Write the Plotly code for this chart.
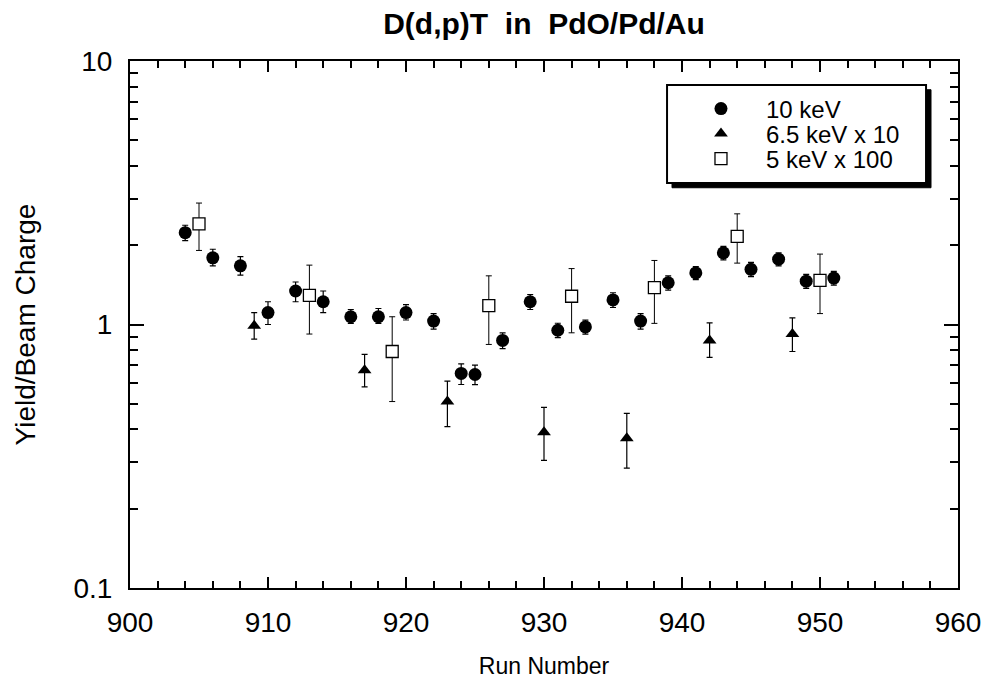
import plotly.graph_objects as go

# 10 keV
run_10 = [904, 906, 908, 910, 912, 914, 916, 918, 920, 922, 924, 925, 927, 929, 931, 933, 935, 937, 939, 941, 943, 945, 947, 949, 951]
y_10 = [2.23, 1.79, 1.67, 1.11, 1.34, 1.22, 1.07, 1.07, 1.11, 1.03, 0.652, 0.646, 0.870, 1.22, 0.951, 0.979, 1.24, 1.03, 1.44, 1.57, 1.87, 1.62, 1.77, 1.46, 1.50]
err_10_up = [0.15, 0.14, 0.14, 0.11, 0.11, 0.12, 0.07, 0.08, 0.08, 0.07, 0.057, 0.055, 0.06, 0.08, 0.06, 0.06, 0.08, 0.07, 0.09, 0.09, 0.11, 0.10, 0.10, 0.09, 0.09]
err_10_dn = [0.15, 0.12, 0.13, 0.11, 0.12, 0.11, 0.06, 0.06, 0.07, 0.07, 0.06, 0.055, 0.06, 0.08, 0.06, 0.06, 0.08, 0.07, 0.09, 0.09, 0.11, 0.10, 0.10, 0.09, 0.09]

# 6.5 keV x 10
run_65 = [909, 917, 923, 930, 936, 942, 948]
y_65 = [0.99, 0.67, 0.51, 0.39, 0.37, 0.87, 0.92]
err_65_up = [0.12, 0.10, 0.10, 0.095, 0.09, 0.145, 0.14]
err_65_dn = [0.11, 0.09, 0.10, 0.085, 0.085, 0.12, 0.13]

# 5 keV x 100
run_5 = [905, 913, 919, 926, 932, 938, 944, 950]
y_5 = [2.41, 1.29, 0.79, 1.18, 1.28, 1.38, 2.16, 1.47]
err_5_up = [0.48, 0.39, 0.28, 0.35, 0.35, 0.37, 0.47, 0.38]
err_5_dn = [0.50, 0.37, 0.28, 0.34, 0.35, 0.37, 0.45, 0.37]

FONT = "Liberation Sans, Arial, Helvetica, sans-serif"

fig = go.Figure()
fig.add_trace(go.Scatter(
    x=run_10, y=y_10, mode="markers", name="10 keV", legend="legend",
    marker=dict(symbol="circle", size=13, color="black"),
    error_y=dict(type="data", array=err_10_up, arrayminus=err_10_dn, color="black", thickness=1.2, width=3),
))
fig.add_trace(go.Scatter(
    x=run_65, y=y_65, mode="markers", name="6.5 keV x 10", legend="legend2",
    marker=dict(symbol="triangle-up", size=12, color="black"),
    error_y=dict(type="data", array=err_65_up, arrayminus=err_65_dn, color="black", thickness=1.2, width=3),
))
fig.add_trace(go.Scatter(
    x=run_5, y=y_5, mode="markers", name="5 keV x 100", legend="legend3",
    marker=dict(symbol="square", size=12, color="white", line=dict(color="black", width=1.3)),
    error_y=dict(type="data", array=err_5_up, arrayminus=err_5_dn, color="black", thickness=1.0, width=3),
))

# legend box with drop shadow
bx0, bx1, by0, by1 = 0.6486, 0.9614, 0.7685, 0.9545
fig.add_shape(type="rect", xref="paper", yref="paper",
              x0=bx0 + 0.006, x1=bx1 + 0.006, y0=by0 - 0.009, y1=by1 - 0.009,
              fillcolor="black", line=dict(color="black", width=1), layer="above")
fig.add_shape(type="rect", xref="paper", yref="paper",
              x0=bx0, x1=bx1, y0=by0, y1=by1,
              fillcolor="white", line=dict(color="black", width=2), layer="above")

leg_common = dict(x=0.6594, xanchor="left", yanchor="middle", bgcolor="rgba(0,0,0,0)", borderwidth=0,
                  font=dict(family=FONT, size=24, color="black"), itemwidth=80)

fig.update_layout(
    width=982, height=679,
    margin=dict(l=130, r=24, t=61, b=91),
    paper_bgcolor="white", plot_bgcolor="white",
    font=dict(family=FONT, color="black", size=20),
    title=dict(text="<b>D(d,p)T\u00a0 in\u00a0 PdO/Pd/Au</b>", x=0.5, xref="paper",
               y=1 - 23 / 679, yref="container", yanchor="middle", xanchor="center",
               font=dict(family=FONT, size=30, color="black")),
    showlegend=True,
    legend=dict(y=0.9089, **leg_common),
    legend2=dict(y=0.8615, **leg_common),
    legend3=dict(y=0.8140, **leg_common),
    xaxis=dict(range=[900, 960], tick0=900, dtick=10, ticks="inside", ticklen=11, tickwidth=1.5,
               tickcolor="black", showline=True, linewidth=2, linecolor="black", mirror="allticks",
               showgrid=False, zeroline=False, tickfont=dict(size=28), ticklabelstandoff=8,
               automargin=False,
               minor=dict(dtick=2, ticks="inside", ticklen=7, tickwidth=1.5, tickcolor="black", showgrid=False),
               title=dict(text="Run Number", font=dict(size=23), standoff=26)),
    yaxis=dict(type="log", range=[-1, 1], tickvals=[0.1, 1, 10], ticktext=["0.1", "1", "10"],
               ticks="inside", ticklen=14, tickwidth=1.5, tickcolor="black",
               showline=True, linewidth=2, linecolor="black", mirror="allticks",
               showgrid=False, zeroline=False, tickfont=dict(size=28), ticklabelstandoff=10,
               automargin=False,
               minor=dict(tickvals=[0.2, 0.3, 0.4, 0.5, 0.6, 0.7, 0.8, 0.9, 2, 3, 4, 5, 6, 7, 8, 9],
                          ticks="inside", ticklen=8, tickwidth=1.5, tickcolor="black", showgrid=False),
               title=dict(text="Yield/Beam Charge", font=dict(size=28), standoff=30)),
)

fig.write_html("out.html", config={"displayModeBar": False},
               post_script="document.body.style.margin='0';document.body.style.overflow='hidden';")
